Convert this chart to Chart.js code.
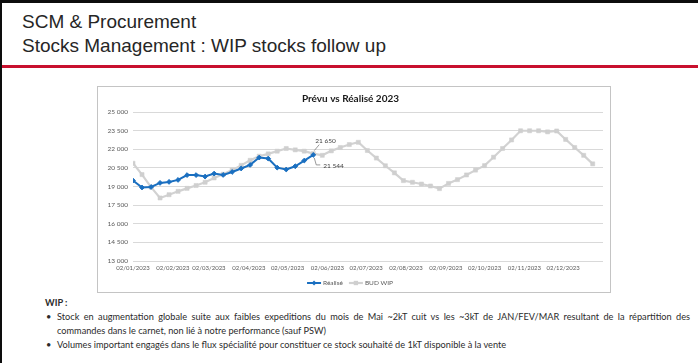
<!DOCTYPE html>
<html><head><meta charset="utf-8">
<script src="https://cdn.jsdelivr.net/npm/chart.js@4.4.0/dist/chart.umd.min.js"></script>
<style>
html,body{margin:0;padding:0;}
body{width:698px;height:363px;overflow:hidden;background:#fff;position:relative;font-family:"Liberation Sans",Arial,sans-serif;}
#frameTop{position:absolute;left:0;top:0;width:698px;height:3px;background:#0d0d0d;}
#frameLeft{position:absolute;left:0;top:0;width:2px;height:363px;background:#0d0d0d;}
#title{position:absolute;left:22px;top:10px;font-size:19px;line-height:24px;color:#262626;white-space:nowrap;}
#rule{position:absolute;left:2px;top:65px;width:696px;height:3px;background:#c8102e;}
#box{position:absolute;left:97px;top:86px;width:512px;height:205px;border:1px solid #c4c4c4;}
#box canvas{position:absolute;left:0;top:0;}
#notes{position:absolute;left:45px;top:296px;width:645px;font-family:Lato,"Open Sans",sans-serif;font-size:9.2px;line-height:14px;color:#2b2b2b;}
#notes .head{font-weight:bold;}
#notes ul{margin:0;padding:0;list-style:none;}
#notes li{position:relative;padding-left:12px;}
#notes li::before{content:"•";position:absolute;left:1px;top:0;}
#notes .jl{text-align:justify;text-align-last:justify;}
</style>
</head><body>
<div id="frameTop"></div><div id="frameLeft"></div>
<div id="title">SCM &amp; Procurement<br>Stocks Management : WIP stocks follow up</div>
<div id="rule"></div>
<div id="box"><canvas id="c" width="512" height="205"></canvas></div>
<div id="notes">
<div class="head">WIP :</div>
<ul>
<li><div class="jl">Stock en augmentation globale suite aux faibles expeditions du mois de Mai ~2kT cuit vs les ~3kT de JAN/FEV/MAR resultant de la répartition des</div><div>commandes dans le carnet, non lié à notre performance (sauf PSW)</div></li>
<li>Volumes important engagés dans le flux spécialité pour constituer ce stock souhaité de 1kT disponible à la vente</li>
</ul>
</div>
<script>
// ---- data ----
const weekDates = ['2023-01-02','2023-01-09','2023-01-16','2023-01-23','2023-01-30',
 '2023-02-06','2023-02-13','2023-02-20','2023-02-27',
 '2023-03-06','2023-03-13','2023-03-20','2023-03-27',
 '2023-04-03','2023-04-10','2023-04-17','2023-04-24',
 '2023-05-01','2023-05-08','2023-05-15','2023-05-22','2023-05-29',
 '2023-06-05','2023-06-12','2023-06-19','2023-06-26',
 '2023-07-03','2023-07-10','2023-07-17','2023-07-24','2023-07-31',
 '2023-08-07','2023-08-14','2023-08-21','2023-08-28',
 '2023-09-04','2023-09-11','2023-09-18','2023-09-25',
 '2023-10-02','2023-10-09','2023-10-16','2023-10-23','2023-10-30',
 '2023-11-06','2023-11-13','2023-11-20','2023-11-27',
 '2023-12-04','2023-12-11','2023-12-18','2023-12-25'];
const realise = [19480,18920,18960,19290,19370,19530,19920,19920,19800,20040,19930,20170,20450,20740,21330,21250,20520,20370,20630,21090,21544];
const budWip = [20870,19960,18950,18075,18340,18610,18850,19080,19340,19690,
 19990,20320,20700,21110,21440,21630,21845,22060,21950,21845,
 21650,21510,21870,22140,22380,22560,21900,21290,20670,20100,
 19475,19340,19200,19040,18830,19250,19555,19930,20320,20680,
 21360,22060,22750,23490,23490,23490,23400,23470,22790,22140,
 21510,20825];
const monthTicks = ['02/01/2023','02/02/2023','02/03/2023','02/04/2023','02/05/2023','02/06/2023',
 '02/07/2023','02/08/2023','02/09/2023','02/10/2023','02/11/2023','02/12/2023'];
const axisStart = '2023-01-02', axisEnd = '2024-01-02';
const yMin = 13000, yMax = 25000, yStep = 1500;

// ---- helpers ----
const DAY = 86400000;
const dayOf = iso => (Date.parse(iso) - Date.parse(axisStart)) / DAY;
const dayOfFr = s => { const [d,m,y] = s.split('/'); return dayOf(`${y}-${m}-${d}`); };
const fmt = v => String(Math.round(v)).replace(/\B(?=(\d{3})+(?!\d))/g, ' ');
const tickDays = monthTicks.map(dayOfFr);
const labelByDay = {}; tickDays.forEach((d,i)=>labelByDay[d]=monthTicks[i]);
const toPts = arr => arr.map((v,i)=>({x: dayOf(weekDates[i]), y: v}));

const BLUE = '#1a6fc0', GREY = '#d2d2d2';
const FONT = 'Lato, "Open Sans", sans-serif';

const labelPlugin = {
  id: 'lastLabels',
  afterDatasetsDraw(chart) {
    const ctx = chart.ctx;
    const mR = chart.getDatasetMeta(0), mB = chart.getDatasetMeta(1);
    const idx = realise.length - 1;
    const pr = mR.data[idx], pb = mB.data[idx];
    ctx.save();
    ctx.strokeStyle = '#7f7f7f'; ctx.lineWidth = 0.8;
    ctx.fillStyle = '#404040';
    ctx.font = '6.5px ' + FONT;
    ctx.textBaseline = 'middle';
    ctx.textAlign = 'left';
    ctx.beginPath(); ctx.moveTo(pb.x + 1, pb.y - 3); ctx.lineTo(pb.x + 6, pb.y - 9); ctx.stroke();
    ctx.fillText(fmt(budWip[idx]), pb.x + 2, pb.y - 13);
    ctx.beginPath(); ctx.moveTo(pr.x + 1, pr.y + 3); ctx.lineTo(pr.x + 3, pr.y + 10); ctx.lineTo(pr.x + 7, pr.y + 10); ctx.stroke();
    ctx.fillText(fmt(realise[idx]), pr.x + 10, pr.y + 11);
    ctx.restore();
  }
};

// legend drawn under the x axis, Excel style (line + marker + text)
const legendPlugin = {
  id: 'excelLegend',
  afterDraw(chart) {
    const ctx = chart.ctx;
    ctx.save();
    ctx.font = '6.5px ' + FONT;
    ctx.textBaseline = 'middle';
    ctx.textAlign = 'left';
    const sw = 14, gap = 2, sep = 6;
    const items = chart.data.datasets.map(ds => ({ ds, w: sw + gap + ctx.measureText(ds.label).width }));
    const total = items.reduce((a, it) => a + it.w, 0) + sep * (items.length - 1);
    let x = chart.width / 2 - total / 2 - 4;
    const y = chart.height - 9;
    items.forEach(({ ds, w }) => {
      ctx.strokeStyle = ds.borderColor; ctx.lineWidth = ds.borderWidth;
      ctx.beginPath(); ctx.moveTo(x, y); ctx.lineTo(x + sw, y); ctx.stroke();
      ctx.fillStyle = ds.pointBackgroundColor;
      const cx = x + sw / 2, r = ds.pointRadius;
      ctx.beginPath();
      if (ds.pointStyle === 'rectRot') { ctx.moveTo(cx, y - r); ctx.lineTo(cx + r, y); ctx.lineTo(cx, y + r); ctx.lineTo(cx - r, y); }
      else { ctx.rect(cx - r * 0.75, y - r * 0.75, r * 1.5, r * 1.5); }
      ctx.closePath(); ctx.fill();
      ctx.fillStyle = '#595959';
      ctx.fillText(ds.label, x + sw + gap, y);
      x += w + sep;
    });
    ctx.restore();
  }
};

new Chart(document.getElementById('c'), {
  type: 'line',
  data: {
    datasets: [
      { label: 'Réalisé', data: toPts(realise), borderColor: BLUE, backgroundColor: BLUE,
        borderWidth: 2, pointStyle: 'rectRot', pointRadius: 2.4, pointBackgroundColor: BLUE,
        pointBorderColor: BLUE, pointBorderWidth: 1, tension: 0, order: 0 },
      { label: 'BUD WIP', data: toPts(budWip), borderColor: GREY, backgroundColor: GREY,
        borderWidth: 2.2, pointStyle: 'rect', pointRadius: 2.9, pointBackgroundColor: '#cfcfcf',
        pointBorderColor: '#cfcfcf', pointBorderWidth: 0.5, tension: 0, order: 1 }
    ]
  },
  options: {
    responsive: false, animation: false, devicePixelRatio: 1,
    layout: { padding: { left: 0, right: 7, top: 0, bottom: 17 } },
    plugins: {
      title: { display: true, text: 'Prévu vs Réalisé 2023', color: '#1a1a1a',
        font: { family: FONT, size: 10, weight: 'bold' }, padding: { top: 6, bottom: 7 } },
      legend: { display: false },
      tooltip: { enabled: false }
    },
    scales: {
      x: { type: 'linear', min: dayOf(axisStart), max: dayOf(axisEnd),
        afterBuildTicks: s => { s.ticks = tickDays.map(v => ({ value: v })); },
        afterFit: s => { s.height = 14; },
        grid: { display: false, drawTicks: false, tickLength: 0 }, border: { display: false },
        ticks: { autoSkip: false, maxRotation: 0, padding: 3.5, color: '#595959',
          font: { family: FONT, size: 6 }, callback: v => labelByDay[v] || '' } },
      y: { min: yMin, max: yMax,
        afterFit: s => { s.width = 35; },
        grid: { color: '#d9d9d9', lineWidth: 1, drawTicks: false }, border: { display: false },
        ticks: { stepSize: yStep, padding: 5, color: '#595959', font: { family: FONT, size: 6.5 },
          callback: v => fmt(v) } }
    }
  },
  plugins: [labelPlugin, legendPlugin]
});
</script>
</body></html>
